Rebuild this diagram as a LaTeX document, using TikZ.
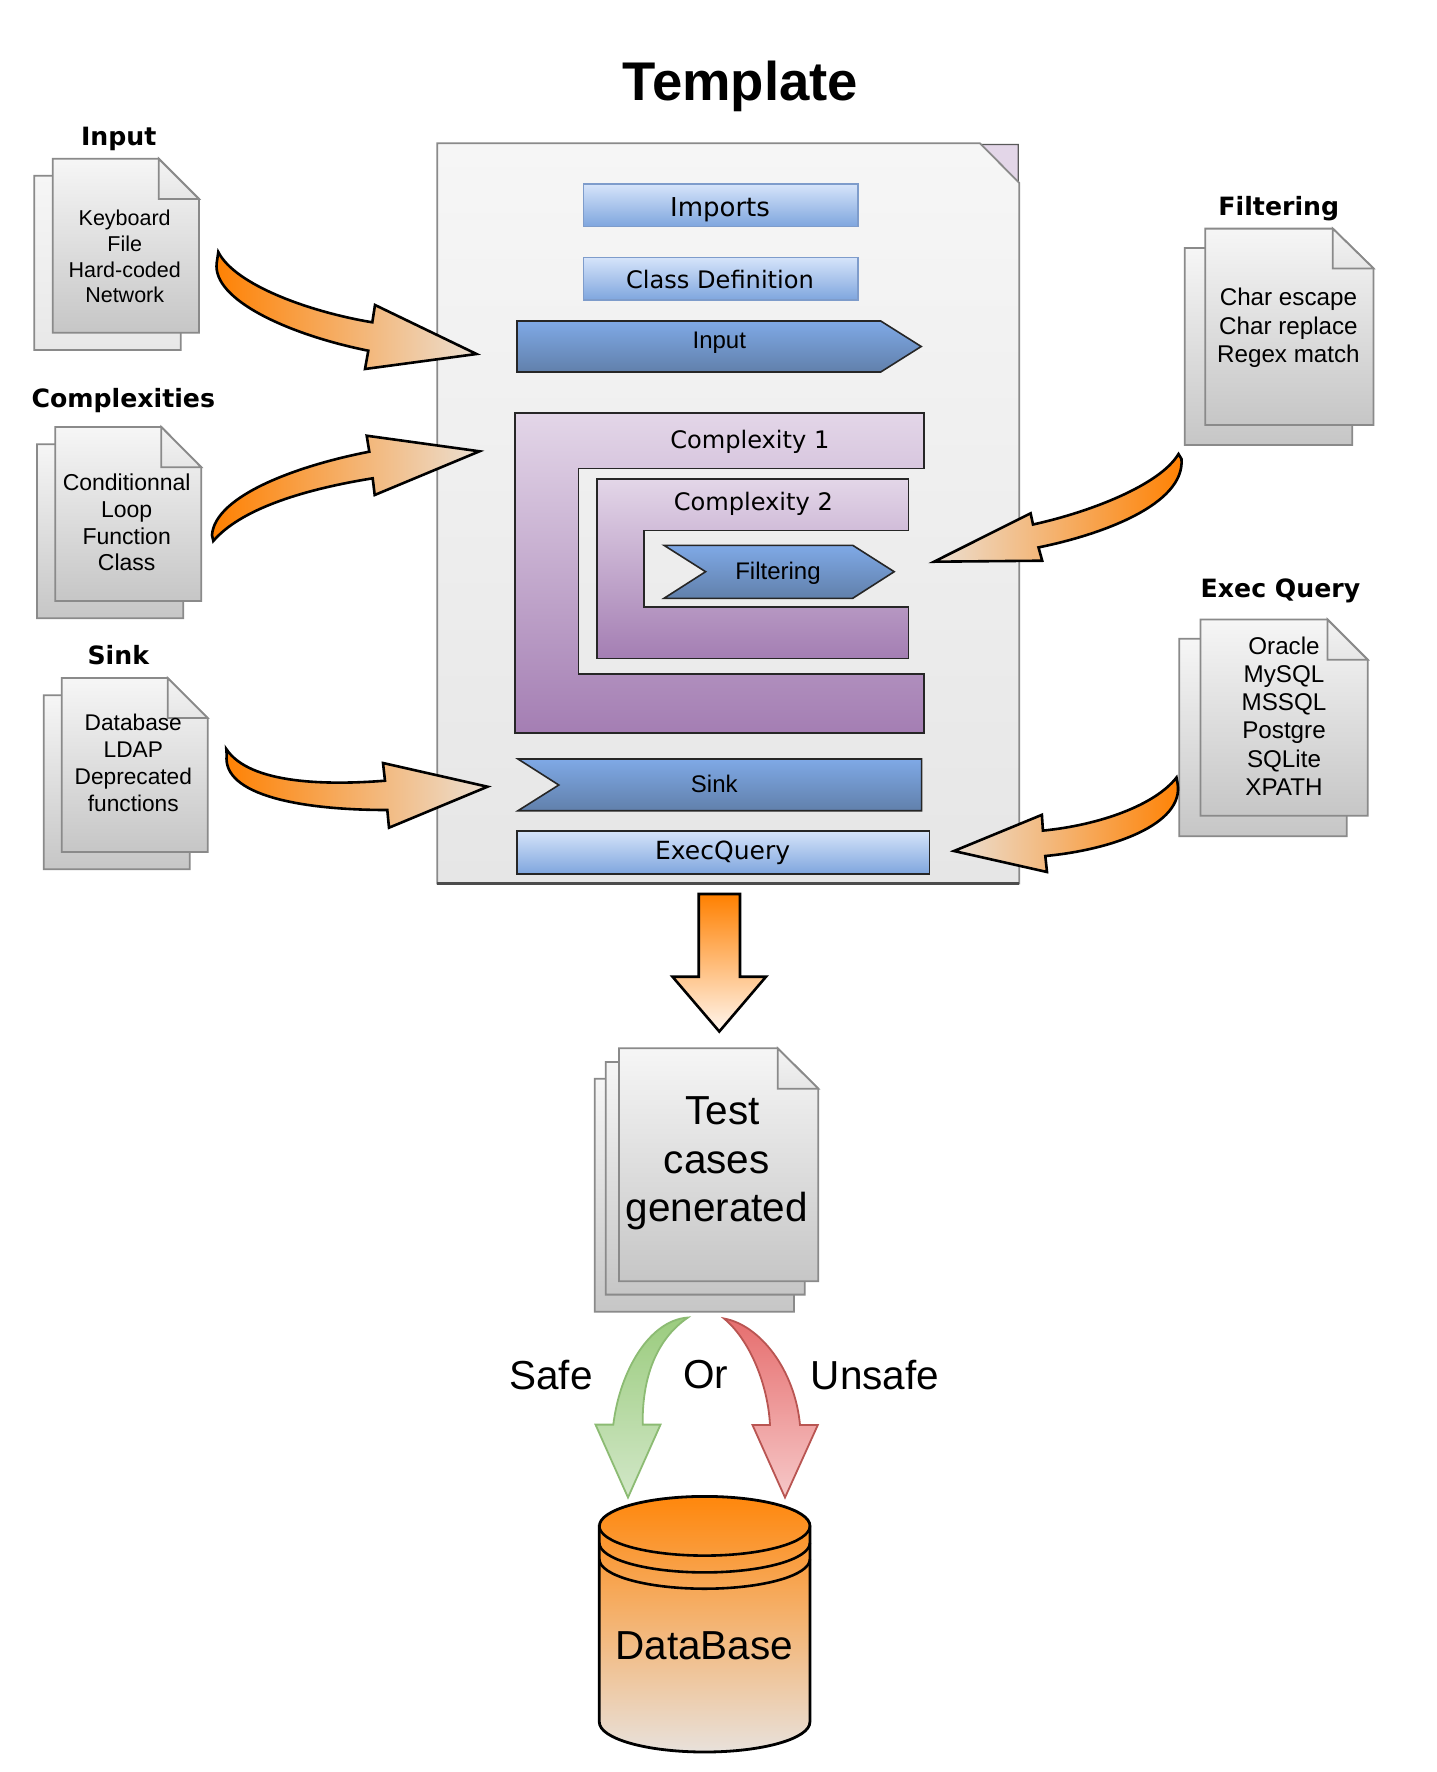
\documentclass[tikz,border=0pt]{standalone}
\usepackage{fontspec}
\setmainfont{Liberation Sans}
\newfontfamily\dvfont{DejaVu Sans}
\definecolor{docline}{HTML}{8A8A8A}
\definecolor{doctop}{HTML}{F6F6F6}
\definecolor{docbot}{HTML}{C6C6C6}
\definecolor{doclight}{HTML}{E8E8E8}
\definecolor{foldtop}{HTML}{F4F4F4}
\definecolor{foldbot}{HTML}{E6E6E6}
\definecolor{pagetop}{HTML}{F6F6F6}
\definecolor{pagebot}{HTML}{E6E6E6}
\definecolor{lbluetop}{HTML}{D6E4FA}
\definecolor{lbluebot}{HTML}{7FA6DE}
\definecolor{lblueline}{HTML}{7E9CCB}
\definecolor{dbluetop}{HTML}{7FA9E6}
\definecolor{dbluebot}{HTML}{6180AB}
\definecolor{purptop}{HTML}{E3D6E8}
\definecolor{purpbot}{HTML}{A47EB3}
\definecolor{orangeA}{HTML}{FF8000}
\definecolor{orangeB}{HTML}{EBDFD2}
\definecolor{orangeC}{HTML}{FFF6EE}
\definecolor{cylA}{HTML}{FF870C}
\definecolor{cylB}{HTML}{E8E1DB}
\definecolor{greenA}{HTML}{9BCC7E}
\definecolor{greenB}{HTML}{D2E7C8}
\definecolor{greenL}{HTML}{8CBB73}
\definecolor{redA}{HTML}{E66E6E}
\definecolor{redB}{HTML}{F6C8C8}
\definecolor{redL}{HTML}{B95552}
\tikzset{
  docsheet/.style={draw=docline,line width=1.8pt,top color=doctop,bottom color=#1},
  docsheet/.default=docbot,
  docfold/.style={draw=docline,line width=1.8pt,top color=foldtop,bottom color=foldbot,line join=miter},
  curvearrow/.style={draw=black,line width=2.6pt,line join=miter,miter limit=10},
  boxlight/.style={draw=lblueline,line width=1.6pt,top color=lbluetop,bottom color=lbluebot},
  boxlightdark/.style={draw=black!85,line width=1.6pt,top color=lbluetop,bottom color=lbluebot},
  boxdark/.style={draw=black!85,line width=1.6pt,top color=dbluetop,bottom color=dbluebot},
  boxpurple/.style={draw=black!85,line width=1.6pt,top color=purptop,bottom color=purpbot},
  txt/.style={inner sep=0pt,outer sep=0pt,align=center,text=black},
  headlabel/.style={txt,font=\dvfont\bfseries\fontsize{25.2}{30}\selectfont},
  verdanalabel/.style={txt,font=\dvfont\fontsize{24.1}{29}\selectfont},
  helvlabel/.style={txt,font=\fontsize{24}{29}\selectfont},
  biglabel/.style={txt,font=\fontsize{40.5}{48.6}\selectfont},
}
% one sheet with a folded corner: left, top, right, bottom, fold x, fold y
\newcommand{\sheet}[7][docbot]{%
  \path[docsheet=#1] (#2,#3) -- (#6,#3) -- (#4,#7) -- (#4,#5) -- (#2,#5) -- cycle;
  \path[docfold] (#6,#3) -- (#6,#7) -- (#4,#7) -- cycle;
}
\begin{document}
\begin{tikzpicture}[x=1pt,y=-1pt]
\useasboundingbox (0,0) rectangle (1436,1772);
\fill[white] (0,0) rectangle (1436,1772);

\node[txt,font=\bfseries\fontsize{54.5}{60}\selectfont] (title) at (740.5,86) {Template};

% template page
\path[draw=black!65,line width=1.2pt,fill=purptop] (980,144.4) -- (1018.3,144.4) -- (1018.3,183) -- cycle;
\path[draw=docline,line width=1.8pt,top color=pagetop,bottom color=pagebot]
  (437.3,143.3) -- (980,143.3) -- (1019.3,183) -- (1019.3,883.5) -- (437.3,883.5) -- cycle;
\draw[black!70,line width=2.6pt] (437.3,883.5) -- (1019.3,883.5);

% boxes in the page
\path[boxlight] (583.3,184) rectangle (858,226.3);
\node[verdanalabel,font=\dvfont\fontsize{26}{30}\selectfont] (imports) at (720,209.5) {Imports};
\path[boxlight] (583.3,257.3) rectangle (858,300);
\node[verdanalabel] (classdef) at (720,279.3) {Class Definition};
\path[boxdark] (517,321) -- (880.7,321) -- (921.2,346.5) -- (880.7,372) -- (517,372) -- cycle;
\node[helvlabel] (inputbox) at (719.3,343) {Input};

\path[boxpurple] (514.8,412.7) -- (924,412.7) -- (924,468.3) -- (578.3,468.3) -- (578.3,673.7) -- (924,673.7) -- (924,732.7) -- (514.8,732.7) -- cycle;
\node[verdanalabel] (comp1) at (749.8,442.3) {Complexity 1};
\path[boxpurple] (597,479) -- (908.3,479) -- (908.3,530.3) -- (644.2,530.3) -- (644.2,607) -- (908.3,607) -- (908.3,658.3) -- (597,658.3) -- cycle;
\node[verdanalabel] (comp2) at (753.3,504) {Complexity 2};
\path[boxdark] (664,545.3) -- (852.7,545.3) -- (894.2,571.7) -- (852.7,598.3) -- (664,598.3) -- (705.6,571.7) -- cycle;
\node[helvlabel] (filterbox) at (778,573) {Filtering};

\path[boxdark] (518,759) -- (921.6,759) -- (921.6,810.7) -- (518,810.7) -- (558.8,785) -- cycle;
\node[helvlabel] (sinkbox) at (714.3,784) {Sink};
\path[boxlightdark] (517,830.7) rectangle (929.3,873.7);
\node[verdanalabel,font=\dvfont\fontsize{25}{30}\selectfont] (execbox) at (722.6,852.6) {ExecQuery};

% Input document
\sheet[doclight]{34.3}{175.7}{180.7}{350}{140.3}{216}
\sheet{52.7}{158.7}{199}{332.7}{158.7}{199}
\node[headlabel] (inputhead) at (118.7,139.4) {Input};
\node[txt,font=\fontsize{21.5}{25.7}\selectfont] (inputdoc) at (124.7,256.5) {Keyboard\\File\\Hard-coded\\Network};

% Complexities document
\sheet{37}{444.3}{183.3}{618.3}{143}{484.6}
\sheet{55.3}{427}{201.3}{601}{161.3}{467.3}
\node[headlabel] (comphead) at (123.3,400.7) {Complexities};
\node[txt,font=\fontsize{23}{26.8}\selectfont] (compdoc) at (126.7,522.5) {Conditionnal\\Loop\\Function\\Class};

% Sink document
\sheet{43.7}{695.3}{189.7}{869.3}{149.7}{735.3}
\sheet{61.7}{678}{207.7}{852}{167.7}{718}
\node[headlabel] (sinkhead) at (118.3,655.5) {Sink};
\node[txt,font=\fontsize{22.7}{27}\selectfont] (sinkdoc) at (133.3,763) {Database\\LDAP\\Deprecated\\functions};

% Filtering document
\sheet{1184.8}{248}{1352.3}{444.9}{1311.8}{287.8}
\sheet{1205.3}{228.6}{1373.5}{425}{1332.8}{268.4}
\node[headlabel] (filthead) at (1278.8,208.4) {Filtering};
\node[txt,font=\fontsize{24.2}{28.3}\selectfont] (filtdoc) at (1288.4,328) {Char escape\\Char replace\\Regex match};

% Exec Query document
\sheet{1179.3}{638.8}{1346.8}{836.2}{1306.2}{679}
\sheet{1200.5}{619.4}{1367.7}{815.8}{1327.4}{659.7}
\node[headlabel] (exechead) at (1280.5,590.4) {Exec Query};
\node[txt,font=\fontsize{24.2}{28.2}\selectfont] (execdoc) at (1284,716) {Oracle\\MySQL\\MSSQL\\Postgre\\SQLite\\XPATH};

% curved arrows
\path[curvearrow,left color=orangeA,right color=orangeB]
  (218.3,252) .. controls (235,285) and (310,312) .. (372.3,322.3) -- (375,305) -- (476.5,354) -- (365,369) -- (368.3,350.7)
  .. controls (290,335) and (212,300) .. (216.7,263) -- cycle;
\path[curvearrow,left color=orangeA,right color=orangeB]
  (212,535) .. controls (215,495) and (300,465) .. (369.3,451.7) -- (366.7,435.7) -- (479.5,451.3) -- (374.7,495) -- (372.7,478.3)
  .. controls (300,490) and (240,510) .. (213.3,541) -- cycle;
\path[curvearrow,left color=orangeA,right color=orangeB]
  (226.3,749) .. controls (250,785) and (330,785) .. (385,780.7) -- (383,763) -- (487.5,786.7) -- (389,827.7) -- (387.3,810)
  .. controls (300,810) and (222,795) .. (226.7,755) -- cycle;
\path[curvearrow,left color=orangeB,right color=orangeA]
  (1178.5,454) .. controls (1160,485) and (1090,512) .. (1033,524.5) -- (1030.6,513.3) -- (934,561.7) -- (1042.2,560.7) -- (1038.5,547.4)
  .. controls (1100,535) and (1185,505) .. (1181.5,459) -- cycle;
\path[curvearrow,left color=orangeB,right color=orangeA]
  (1176.5,777.5) .. controls (1155,805) and (1100,825) .. (1042.9,830.6) -- (1041.9,814.8) -- (954,851) -- (1047,872) -- (1045.3,856)
  .. controls (1110,850) and (1185,825) .. (1177.5,783) -- cycle;

% big down arrow
\path[curvearrow,top color=orangeA,bottom color=orangeC]
  (698.7,894) -- (740,894) -- (740,976.7) -- (766,976.7) -- (719.3,1031.5) -- (672.5,976.7) -- (698.7,976.7) -- cycle;

% Test cases document
\sheet{594.7}{1078.8}{794}{1311.8}{753.4}{1119.2}
\sheet{605.7}{1062}{804.7}{1294.6}{764.1}{1102.4}
\sheet{619}{1048.3}{818.3}{1281.3}{777.7}{1088.7}
\node[biglabel] (test) at (722.7,1111) {Test};
\node[biglabel] (cases) at (716.7,1163) {cases};
\node[biglabel] (generated) at (716.7,1211) {generated};

% safe / unsafe
\path[draw=greenL,line width=1.8pt,top color=greenA,bottom color=greenB,line join=miter]
  (688,1317.5) .. controls (650,1320) and (620,1370) .. (613.3,1424.6) -- (595.5,1424.6) -- (628,1497.5) -- (660.5,1424.6) -- (642.7,1424.6)
  .. controls (642,1380) and (655,1340) .. (688,1317.5) -- cycle;
\path[draw=redL,line width=1.8pt,top color=redA,bottom color=redB,line join=miter]
  (724,1318.5) .. controls (760,1325) and (795,1370) .. (800,1425) -- (817.8,1425) -- (785,1497.5) -- (752.5,1425) -- (770,1425)
  .. controls (768,1385) and (750,1340) .. (724,1318.5) -- cycle;
\node[biglabel] (safe) at (551,1375) {Safe};
\node[biglabel] (orlabel) at (705.7,1375) {Or};
\node[biglabel] (unsafe) at (875,1375) {Unsafe};

% database cylinder
\path[draw=black,line width=2.8pt,top color=cylA,bottom color=cylB]
  (599.3,1526) -- (599.3,1722) arc[start angle=180,end angle=360,x radius=105.3pt,y radius=30pt]
  -- (810,1526) arc[start angle=0,end angle=180,x radius=105.3pt,y radius=29.6pt] -- cycle;
\draw[black,line width=2.6pt] (599.3,1526) arc[start angle=180,end angle=360,x radius=105.3pt,y radius=29.6pt];
\draw[black,line width=2.6pt] (599.3,1542.8) arc[start angle=180,end angle=360,x radius=105.3pt,y radius=29.6pt];
\draw[black,line width=2.6pt] (599.3,1559.1) arc[start angle=180,end angle=360,x radius=105.3pt,y radius=29.6pt];
\node[biglabel] (database) at (704.3,1646) {DataBase};
\end{tikzpicture}
\end{document}
